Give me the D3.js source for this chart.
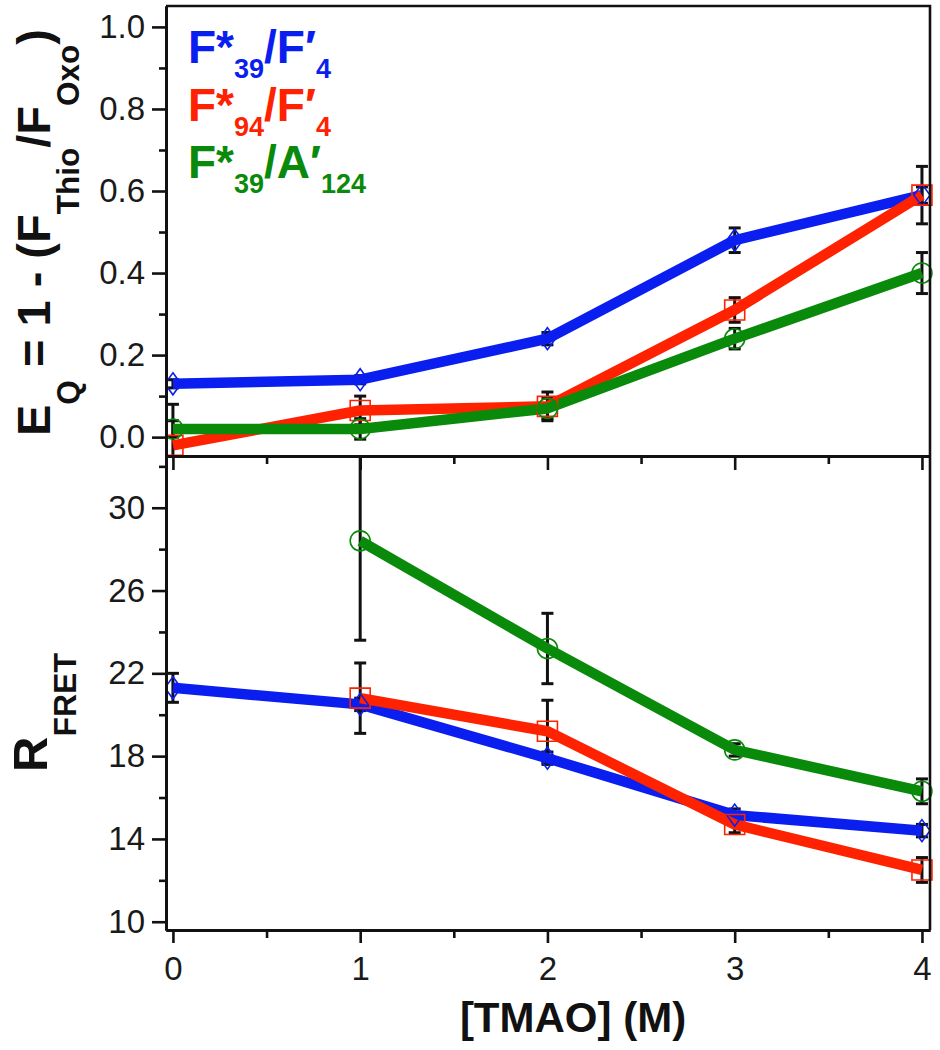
<!DOCTYPE html>
<html>
<head>
<meta charset="utf-8">
<script src="https://cdn.jsdelivr.net/npm/d3@7/dist/d3.min.js"></script>
<style>
  html, body { margin: 0; padding: 0; background: #fff; }
  svg { display: block; font-family: "Liberation Sans", Arial, sans-serif; }
</style>
</head>
<body>
<svg id="chart" width="940" height="1050"></svg>
<script>
// ---------------- data ----------------
const tmao = [0, 1, 2, 3, 4];
const xTicks = [0, 1, 2, 3, 4];
const xMinorTicks = [0.5, 1.5, 2.5, 3.5];

const eqTicks = [0.0, 0.2, 0.4, 0.6, 0.8, 1.0];
const eqMinorTicks = [0.1, 0.3, 0.5, 0.7, 0.9];
const rTicks = [10, 14, 18, 22, 26, 30];
const rMinorTicks = [12, 16, 20, 24, 28, 32];

// E_Q panel
const eqBlue = [0.13, 0.14, 0.24, 0.48, 0.59];
const eqBlueErr = [0.01, 0.01, 0.015, 0.03, 0.02];
const eqRed = [-0.02, 0.065, 0.075, 0.31, 0.59];
const eqRedErr = [0.10, 0.035, 0.035, 0.03, 0.07];
const eqGreen = [0.02, 0.02, 0.07, 0.24, 0.40];
const eqGreenErr = [0.02, 0.025, 0.025, 0.025, 0.05];

// R_FRET panel
const rBlue = [21.3, 20.5, 17.9, 15.15, 14.4];
const rBlueErr = [0.7, 0.3, 0.3, 0.3, 0.3];
const rRed = [null, 20.8, 19.2, 14.7, 12.5];
const rRedErr = [null, 1.7, 1.5, 0.4, 0.6];
const rGreen = [null, 28.4, 23.2, 18.3, 16.3];
const rGreenErr = [null, 4.8, 1.7, 0.3, 0.6];

const seriesNames = [
  {main: "F*", sub1: "39", mid: "/F\u2032", sub2: "4"},
  {main: "F*", sub1: "94", mid: "/F\u2032", sub2: "4"},
  {main: "F*", sub1: "39", mid: "/A\u2032", sub2: "124"}
];
const colors = ["#0a1ef0", "#ff2200", "#0a8a0a"];
const markers = ["diamond", "square", "circle"];

// ---------------- layout ----------------
const svg = d3.select("#chart");
const L = 166, R = 930, T = 6, MID = 456, B = 930;

const x = d3.scaleLinear().domain([-0.037, 4.043]).range([L, R]);
const yTop = d3.scaleLinear().domain([-0.046, 1.051]).range([MID, T]);
const yBot = d3.scaleLinear().domain([9.6, 32.5]).range([B, MID]);

svg.append("rect").attr("width", 940).attr("height", 1050).attr("fill", "#fff");

const defs = svg.append("defs");
defs.append("clipPath").attr("id", "clipTop").append("rect")
  .attr("x", L).attr("y", T).attr("width", R - L + 20).attr("height", MID - T);
defs.append("clipPath").attr("id", "clipBot").append("rect")
  .attr("x", L).attr("y", MID).attr("width", R - L + 20).attr("height", B - MID);

function markerPath(type) {
  if (type === "diamond") return "M0,-11L8,0L0,11L-8,0Z";
  if (type === "square") return "M-10,-10H10V10H-10Z";
  return d3.symbol().type(d3.symbolCircle).size(Math.PI * 10 * 10)();
}

function drawPanel(yScale, clipId, vals, errs) {
  const g = svg.append("g").attr("clip-path", `url(#${clipId})`);
  const series = vals.map((v, i) => ({
    pts: tmao.map((t, j) => ({x: t, y: v[j], e: errs[i][j]})).filter(p => p.y !== null),
    color: colors[i], marker: markers[i]
  }));
  // error bars
  series.forEach(s => {
    const eg = g.append("g").attr("stroke", "#111").attr("stroke-width", 3).attr("fill", "none");
    s.pts.forEach(p => {
      const cx = x(p.x), y1 = yScale(p.y + p.e), y2 = yScale(p.y - p.e);
      eg.append("line").attr("x1", cx).attr("x2", cx).attr("y1", y1).attr("y2", y2);
      eg.append("line").attr("x1", cx - 6).attr("x2", cx + 6).attr("y1", y1).attr("y2", y1);
      eg.append("line").attr("x1", cx - 6).attr("x2", cx + 6).attr("y1", y2).attr("y2", y2);
    });
  });
  // lines
  const line = d3.line().x(d => x(d.x)).y(d => yScale(d.y));
  series.forEach(s => {
    g.append("path").datum(s.pts).attr("d", line)
      .attr("fill", "none").attr("stroke", s.color).attr("stroke-width", 10.5)
      .attr("stroke-linejoin", "round").attr("stroke-linecap", "butt");
  });
  // markers
  series.forEach(s => {
    g.selectAll(null).data(s.pts).enter().append("path")
      .attr("d", markerPath(s.marker))
      .attr("transform", d => `translate(${x(d.x)},${yScale(d.y)})`)
      .attr("fill", "none").attr("stroke", s.color).attr("stroke-width", 1.6);
  });
}

drawPanel(yTop, "clipTop", [eqBlue, eqRed, eqGreen], [eqBlueErr, eqRedErr, eqGreenErr]);
drawPanel(yBot, "clipBot", [rBlue, rRed, rGreen], [rBlueErr, rRedErr, rGreenErr]);

// ---------------- axes ----------------
function styleAxis(g, width) {
  g.select(".domain").attr("stroke", "#111").attr("stroke-width", width);
  g.selectAll(".tick line").attr("stroke", "#111").attr("stroke-width", 2.6);
  g.selectAll(".tick text").attr("font-size", 33).attr("fill", "#1a1a1a")
    .attr("font-family", "'Liberation Sans', Arial, sans-serif");
}

// top panel left axis
const gyt = svg.append("g").attr("transform", `translate(${L},0)`)
  .call(d3.axisLeft(yTop).tickValues(eqTicks).tickSize(14).tickSizeOuter(0)
    .tickPadding(7).tickFormat(d3.format(".1f")));
styleAxis(gyt, 3);
const gytm = svg.append("g").attr("transform", `translate(${L},0)`)
  .call(d3.axisLeft(yTop).tickValues(eqMinorTicks).tickSize(7).tickSizeOuter(0).tickFormat(""));
styleAxis(gytm, 3);

// bottom panel left axis
const gyb = svg.append("g").attr("transform", `translate(${L},0)`)
  .call(d3.axisLeft(yBot).tickValues(rTicks).tickSize(14).tickSizeOuter(0).tickPadding(7));
styleAxis(gyb, 3);
const gybm = svg.append("g").attr("transform", `translate(${L},0)`)
  .call(d3.axisLeft(yBot).tickValues(rMinorTicks).tickSize(7).tickSizeOuter(0).tickFormat(""));
styleAxis(gybm, 3);

// top panel x axis (at its bottom, no labels)
const gxt = svg.append("g").attr("transform", `translate(0,${MID})`)
  .call(d3.axisBottom(x).tickValues(xTicks).tickSize(14).tickSizeOuter(0).tickFormat(""));
styleAxis(gxt, 3);
const gxtm = svg.append("g").attr("transform", `translate(0,${MID})`)
  .call(d3.axisBottom(x).tickValues(xMinorTicks).tickSize(8).tickSizeOuter(0).tickFormat(""));
styleAxis(gxtm, 3);

// bottom panel x axis
const gxb = svg.append("g").attr("transform", `translate(0,${B})`)
  .call(d3.axisBottom(x).tickValues(xTicks).tickSize(13).tickSizeOuter(0).tickPadding(14).tickFormat(d3.format("d")));
styleAxis(gxb, 3);
const gxbm = svg.append("g").attr("transform", `translate(0,${B})`)
  .call(d3.axisBottom(x).tickValues(xMinorTicks).tickSize(8).tickSizeOuter(0).tickFormat(""));
styleAxis(gxbm, 3);

// frame: top and right
svg.append("path").attr("d", `M${L},${T}H${R}V${B}`)
  .attr("fill", "none").attr("stroke", "#111").attr("stroke-width", 2.6);

// ---------------- labels ----------------
// top y label
const tl = svg.append("text").attr("transform", "translate(50,436) rotate(-90)")
  .attr("font-weight", "bold").attr("font-size", 47).attr("fill", "#111");
tl.append("tspan").text("E");
tl.append("tspan").attr("font-size", 31.5).attr("dy", 29).text("Q");
tl.append("tspan").attr("dy", -29).text("\u00a0= 1 - (F");
tl.append("tspan").attr("font-size", 31.5).attr("dy", 29).text("Thio");
tl.append("tspan").attr("dy", -29).text("/F");
tl.append("tspan").attr("font-size", 31.5).attr("dy", 29).text("Oxo");
tl.append("tspan").attr("dy", -29).text(")");

// bottom y label
const bl = svg.append("text").attr("transform", "translate(47,772) rotate(-90)")
  .attr("font-weight", "bold").attr("font-size", 49).attr("fill", "#111");
bl.append("tspan").text("R");
bl.append("tspan").attr("font-size", 32).attr("dy", 29).text("FRET");

// x label
svg.append("text").attr("x", 573).attr("y", 1032).attr("text-anchor", "middle")
  .attr("font-weight", "bold").attr("font-size", 42).attr("fill", "#111")
  .text("[TMAO] (M)");

// legend
const legBase = [63, 121, 178];
seriesNames.forEach((s, i) => {
  const t = svg.append("text").attr("x", 188).attr("y", legBase[i])
    .attr("font-weight", "bold").attr("font-size", 46).attr("fill", colors[i]);
  t.append("tspan").text(s.main);
  t.append("tspan").attr("font-size", 27).attr("dy", 15).text(s.sub1);
  t.append("tspan").attr("dy", -15).text(s.mid);
  t.append("tspan").attr("font-size", 27).attr("dy", 15).text(s.sub2);
});
</script>
</body>
</html>
